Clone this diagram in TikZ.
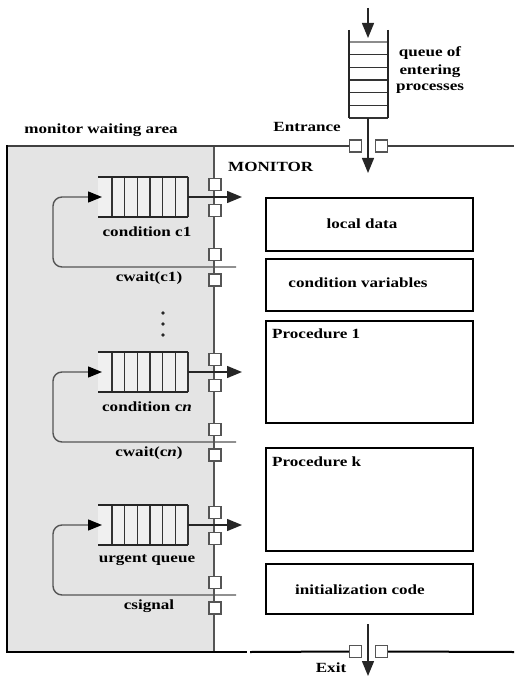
\documentclass[tikz,border=0pt]{standalone}
\usepackage{fontspec}
\newfontfamily\lblfont{Liberation Serif}[FakeStretch=1.22]
\usetikzlibrary{arrows.meta}
\definecolor{waitgray}{HTML}{E4E4E4}
\definecolor{linegray}{HTML}{555555}
\definecolor{qfill}{HTML}{F0F0F0}
\tikzset{
  lbl/.style={font=\lblfont\bfseries\fontsize{14}{16}\selectfont, inner sep=0pt, text=black},
  port/.style={draw=linegray, fill=white, line width=1.2pt, minimum width=12pt, minimum height=12pt, inner sep=0pt},
  frameline/.style={line width=2pt, draw=black},
  flow/.style={line width=1.4pt, draw=black!85, -{Triangle[length=15pt,width=12pt]}},
  loopline/.style={line width=1.4pt, draw=linegray, rounded corners=9pt, -{Triangle[length=14pt,width=11pt,fill=black,color=black]}},
  rail/.style={line width=1.4pt, draw=black!85},
  slat/.style={line width=1.2pt, draw=black!80},
  boxsec/.style={draw=black, line width=2pt, fill=white},
}
\begin{document}
\begin{tikzpicture}[x=1pt,y=-1pt]
\useasboundingbox (0,0) rectangle (514,676);
% waiting area
\fill[waitgray] (7,146) rectangle (214,652);
\draw[line width=1.5pt, linegray] (214,146) -- (214,652);
% labels top
\node[lbl] (mwa) at (101,130) {monitor waiting area};
\node[lbl, anchor=east] (entr) at (341,127) {Entrance};
\node[lbl, align=center] (qlab) at (430,70) {queue of\\[2pt]entering\\[0pt]processes};
\node[lbl, anchor=west] (mon) at (228,167) {MONITOR};
% entrance queue
\foreach \k in {1,...,6} \draw[slat] (349,{42+\k*12.67}) -- (388,{42+\k*12.67});
\draw[slat, draw=black!45] (349,42) -- (388,42);
\draw[rail] (349,30) -- (349,118);
\draw[rail] (388,30) -- (388,118);
\coordinate (etop) at (368,8);
\coordinate (eqtop) at (368,38);
\coordinate (eqbot) at (368,118);
\coordinate (einside) at (368,173);
\draw[flow] (etop) -- (eqtop);
% entrance ports and frame
\node[port] (entl) at (355.5,146) {};
\node[port] (entr2) at (381.5,146) {};
\draw[frameline, draw=black!75] (7,146) -- (entl.west);
\draw[frameline, draw=black!75] (entr2.east) -- (514,146);
\draw[flow] (eqbot) -- (einside);
\draw[frameline] (7,145) -- (7,653);
% exit
\node[port] (exl) at (355.5,651.5) {};
\node[port] (exr) at (381.5,651.5) {};
\draw[frameline] (6,652) -- (247,652);
\draw[frameline] (250,652) -- (exl.west);
\draw[frameline] (exr.east) -- (514,652);
\coordinate (exstart) at (368,624);
\coordinate (exend) at (368,676);
\draw[flow] (exstart) -- (exend);
\node[lbl] (exitlab) at (331,668) {Exit};
% queues
\foreach \m/\nm/\ta/\tb in {197/qa/{condition c1}/{cwait(c1)}, 372/qn/{condition c\textit{n}}/{cwait(c\textit{n})}, 525/qu/{urgent queue}/{csignal}} {
  \fill[qfill] (98,\m-20) rectangle (188,\m+20);
  \foreach \k in {0,...,6} \draw[slat] ({112+\k*12.67},\m-20) -- ({112+\k*12.67},\m+20);
  \draw[rail] (98,\m-20) -- (188,\m-20);
  \draw[rail] (98,\m+20) -- (188,\m+20);
  \coordinate (\nm-in) at (102,\m);
  \coordinate (\nm-out) at (188,\m);
  \coordinate (\nm-tip) at (242,\m);
  \coordinate (\nm-lend) at (236,\m+70);
  \node[port] (\nm-pa) at (215,\m-12.5) {};
  \node[port] (\nm-pb) at (215,\m+13.5) {};
  \node[port] (\nm-pc) at (215,\m+57.5) {};
  \node[port] (\nm-pd) at (215,\m+83) {};
  \draw[flow] (\nm-out) -- (\nm-tip);
  \draw[loopline] (\nm-lend) -- (53,\m+70) -- (53,\m) -- (\nm-in);
  \node[lbl] (\nm-la) at (147,\m+35) {\ta};
  \node[lbl] (\nm-lb) at (149,\m+81) {\tb};
}
% dots
\fill[black!85] (163,313) circle (1.8) (163,324) circle (1.8) (163,335) circle (1.8);
% monitor sections
\node[boxsec, minimum width=207pt, minimum height=53pt, anchor=north west] (ld) at (265,197) {};
\node[lbl] at (362,224) {local data};
\node[boxsec, minimum width=207pt, minimum height=52pt, anchor=north west] (cv) at (265,258) {};
\node[lbl] at (358,283) {condition variables};
\node[boxsec, minimum width=207pt, minimum height=102pt, anchor=north west] (p1) at (265,320) {};
\node[lbl, anchor=west] at (272,334) {Procedure 1};
\node[boxsec, minimum width=207pt, minimum height=103pt, anchor=north west] (pk) at (265,447) {};
\node[lbl, anchor=west] at (272,462) {Procedure k};
\node[boxsec, minimum width=207pt, minimum height=50pt, anchor=north west] (ic) at (265,563) {};
\node[lbl] at (360,590) {initialization code};
\end{tikzpicture}
\end{document}
